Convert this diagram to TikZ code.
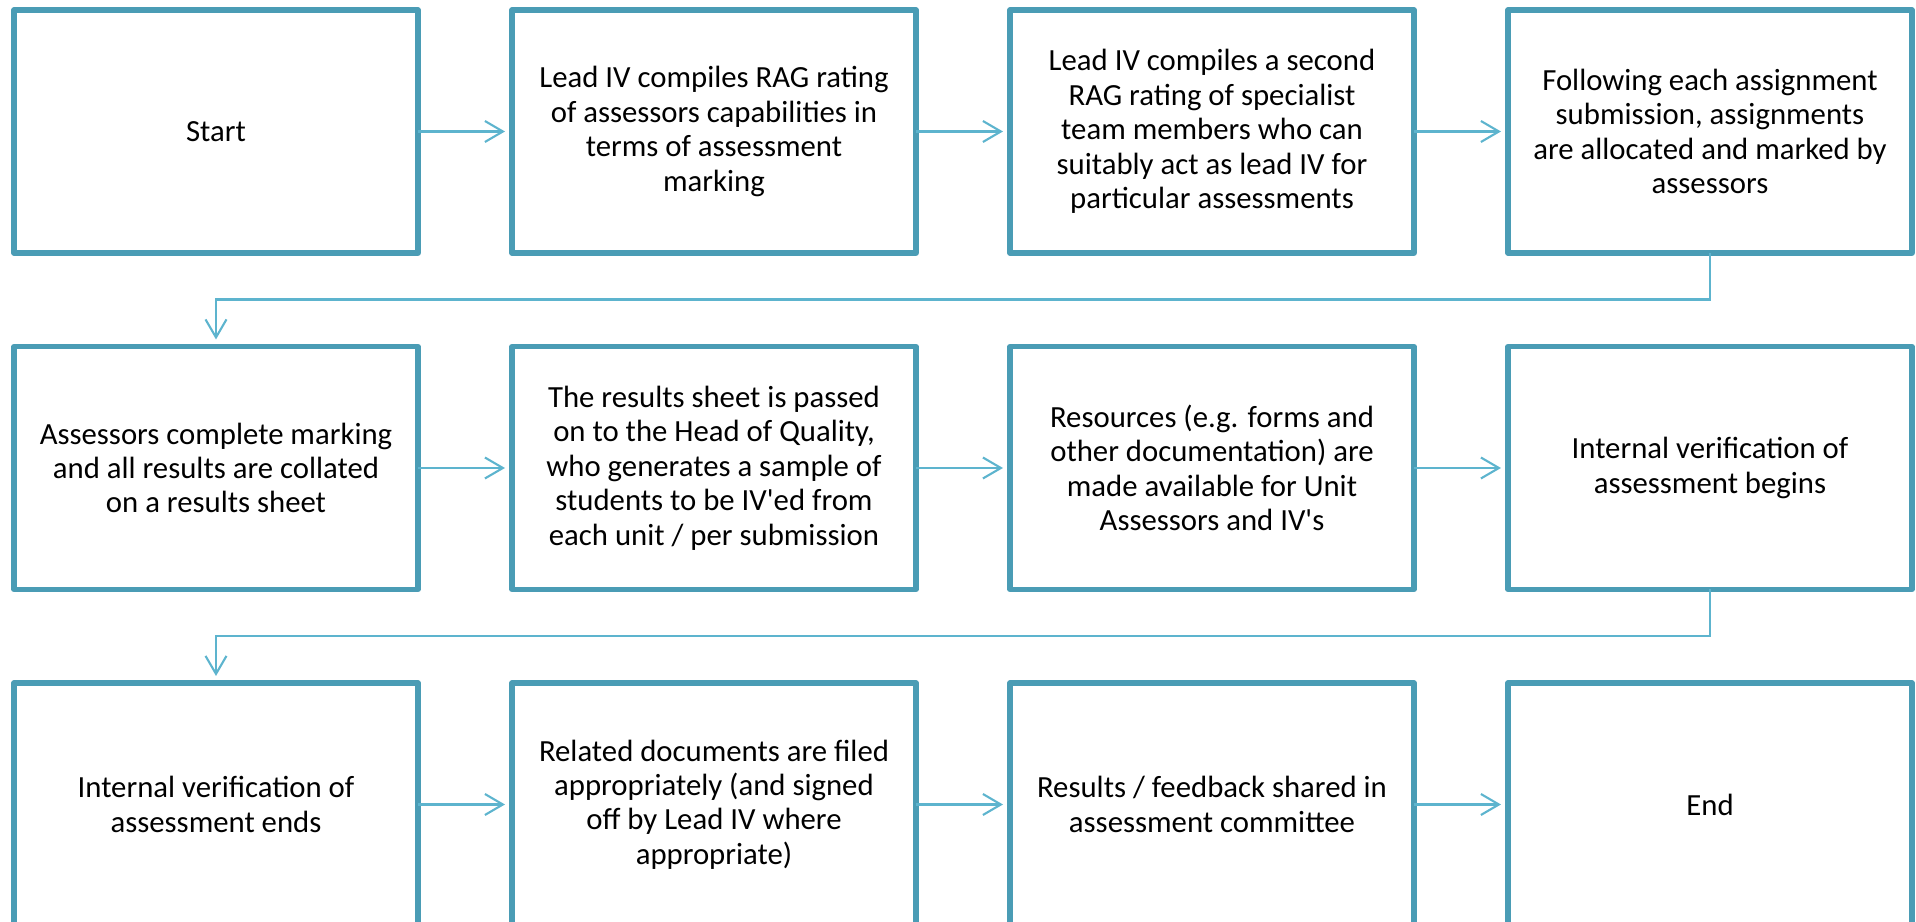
\documentclass[tikz,border=0pt]{standalone}
\usepackage{fontspec}
\setmainfont{Carlito}[Ligatures=TeXOff]
\usepackage{xcolor}
\usepackage{tikz}
\usetikzlibrary{positioning,arrows.meta}
\definecolor{boxblue}{HTML}{4A9CB5}
\definecolor{linkblue}{HTML}{5DB4CE}

\begin{document}
\begin{tikzpicture}[stagebox/.style={rectangle, draw=boxblue, line width=1.45pt, line join=round,
        minimum width=4.04cm, minimum height=2.43cm, outer sep=0pt, align=center,
        font=\fontsize{8.75pt}{9.8pt}\selectfont},
    link/.style={draw=linkblue, line width=0.6pt, -{Straight Barb[length=0.18cm,width=0.21cm]}, shorten >=0.07cm},
    node distance=0.935cm and 0.94cm]
    \useasboundingbox (0,0) rectangle (19.16,-9.22);
    \clip (0,0) rectangle (19.16,-9.22);
    \node[stagebox] (start) at (2.16,-1.315) {Start};
    \node[stagebox, right=of start] (ragone) {Lead IV compiles RAG rating\\of assessors capabilities in\\terms of assessment\\marking};
    \node[stagebox, right=of ragone] (ragtwo) {Lead IV compiles a second\\RAG rating of specialist\\team members who can\\suitably act as lead IV for\\particular assessments};
    \node[stagebox, right=of ragtwo] (allocate) {Following each assignment\\submission, assignments\\are allocated and marked by\\assessors};
    \node[stagebox, below=of start] (collate) {Assessors complete marking\\and all results are collated\\on a results sheet};
    \node[stagebox, right=of collate] (sample) {The results sheet is passed\\on to the Head of Quality,\\who generates a sample of\\students to be IV'ed from\\each unit / per submission};
    \node[stagebox, right=of sample] (resources) {Resources (e.g. forms and\\other documentation) are\\made available for Unit\\Assessors and IV's};
    \node[stagebox, right=of resources] (ivbegin) {Internal verification of\\assessment begins};
    \node[stagebox, below=of collate] (ivend) {Internal verification of\\assessment ends};
    \node[stagebox, right=of ivend] (filed) {Related documents are filed\\appropriately (and signed\\off by Lead IV where\\appropriate)};
    \node[stagebox, right=of filed] (shared) {Results / feedback shared in\\assessment committee};
    \node[stagebox, right=of shared] (finish) {End};

    \draw[link] (start) -- (ragone);
    \draw[link] (ragone) -- (ragtwo);
    \draw[link] (ragtwo) -- (allocate);
    \draw[link] (allocate.south) -- ++(0,-0.465) -| (collate.north);
    \draw[link] (collate) -- (sample);
    \draw[link] (sample) -- (resources);
    \draw[link] (resources) -- (ivbegin);
    \draw[link] (ivbegin.south) -- ++(0,-0.465) -| (ivend.north);
    \draw[link] (ivend) -- (filed);
    \draw[link] (filed) -- (shared);
    \draw[link] (shared) -- (finish);
\end{tikzpicture}
\end{document}
